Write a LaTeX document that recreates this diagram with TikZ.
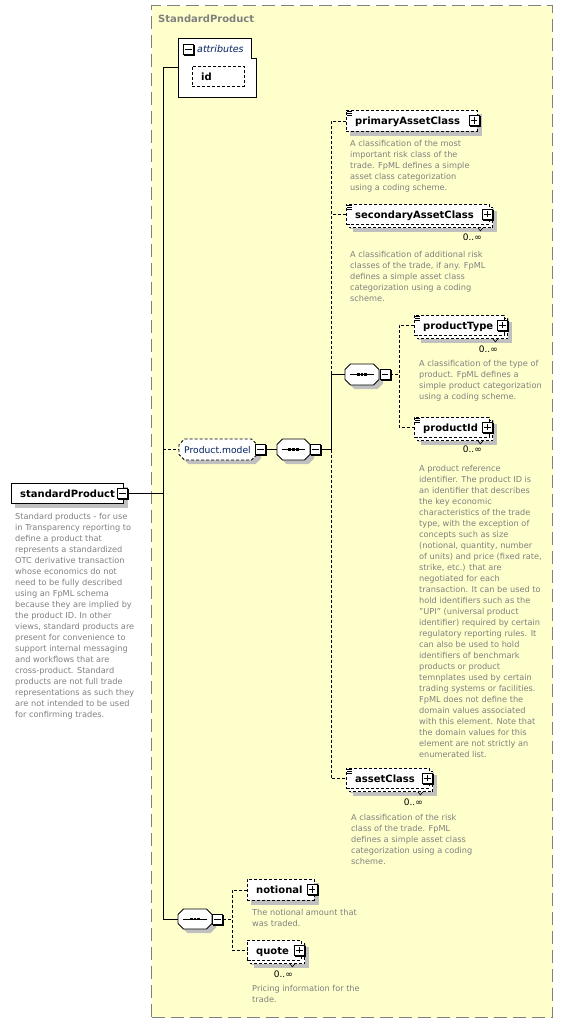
\documentclass[tikz,border=0pt]{standalone}
\usepackage{fontspec}
\setmainfont{DejaVu Sans}
\usetikzlibrary{calc,fit}
\definecolor{yelfill}{RGB}{255,255,204}
\definecolor{framecol}{RGB}{128,128,128}
\definecolor{shadcol}{RGB}{192,192,192}
\definecolor{desccol}{RGB}{128,128,128}
\definecolor{groupcol}{RGB}{0,32,96}
\pgfdeclarelayer{layyellow}
\pgfdeclarelayer{layshadow}
\pgfsetlayers{layyellow,layshadow,main}
\tikzset{
  conn/.style={line width=0.9pt},
  optconn/.style={line width=0.9pt, dash pattern=on 3pt off 2pt},
  reqbox/.style={draw, line width=0.9pt, fill=white, inner sep=0pt},
  optbox/.style={reqbox, dash pattern=on 3pt off 2pt},
  dashline/.style={draw, fill=white, line width=0.9pt, dash pattern=on 3pt off 2pt},
  solidline/.style={draw, fill=white, line width=0.9pt},
  namestyle/.style={font=\fontsize{10}{12}\selectfont\bfseries, inner sep=0pt},
  descstyle/.style={font=\fontsize{8.2}{11}\selectfont, text=desccol, inner sep=0pt, align=left, anchor=north west},
  multstyle/.style={font=\fontsize{9}{10}\selectfont, inner sep=0pt, anchor=base east},
  pmstyle/.style={draw, fill=white, line width=0.9pt, minimum width=10pt, minimum height=10pt, inner sep=0pt},
}
\newcommand\elembox[7]{%
  \node[#7, minimum width=#4pt, minimum height=#5pt, anchor=north west] (#1) at (#2,#3) {};
  \begin{pgfonlayer}{layshadow}
    \fill[shadcol] ($(#1.north west)+(4,4)$) rectangle ($(#1.south east)+(4,4)$);
  \end{pgfonlayer}
  \node[namestyle, anchor=base west] (#1-t) at ($(#1.west)+(9,3.6)$) {#6};
}
\newcommand\multiback[1]{%
  \begin{pgfonlayer}{layshadow}
    \fill[shadcol] ($(#1.north west)+(7,7)$) rectangle ($(#1.south east)+(7,7)$);
    \path[dashline] ($(#1.north west)+(3,3)$) rectangle ($(#1.south east)+(3,3)$);
    \draw[line width=0.6pt] ($(#1.south east)+(-12,3)$) -- ++(2.5,3) -- ++(2.5,-3);
  \end{pgfonlayer}
}
\newcommand\elemicon[1]{%
  \foreach \yy in {1.5,3.5,5.5} \draw[line width=0.7pt] ($(#1.north west)+(1,\yy)$) -- ++(5,0);
}
\newcommand\pmbox[3]{%
  \fill[black] ($(#2)+(-4.5,-4.5)$) rectangle ($(#2)+(6.5,6.5)$);
  \node[pmstyle] (#1) at (#2) {};
  \draw[line width=0.9pt] ($(#1.center)+(-3.2,0)$) -- ($(#1.center)+(3.2,0)$);
  \ifnum#3=1\relax \draw[line width=0.9pt] ($(#1.center)+(0,-3.2)$) -- ($(#1.center)+(0,3.2)$);\fi
}
\newcommand\octo[6]{%
  \coordinate (#1-a) at (#2,#3);
  \coordinate (#1-b) at (#4,#5);
  \node[fit=(#1-a)(#1-b), inner sep=0pt] (#1) {};
  \begin{pgfonlayer}{layshadow}
    \fill[shadcol, shift={(4,4)}] (#2+5.5,#3) -- (#4-5.5,#3) -- (#4,#3+5.5) -- (#4,#5-5.5) -- (#4-5.5,#5) -- (#2+5.5,#5) -- (#2,#5-5.5) -- (#2,#3+5.5) -- cycle;
  \end{pgfonlayer}
  \path[#6] (#2+5.5,#3) -- (#4-5.5,#3) -- (#4,#3+5.5) -- (#4,#5-5.5) -- (#4-5.5,#5) -- (#2+5.5,#5) -- (#2,#5-5.5) -- (#2,#3+5.5) -- cycle;
}
\newcommand\seqdots[1]{%
  \draw[line width=0.9pt] ($(#1.west)+(5,0)$) -- ($(#1.east)+(-5,0)$);
  \foreach \dx in {-3.7,0,3.7} \fill ($(#1.center)+(\dx-1.4,-1.2)$) rectangle ($(#1.center)+(\dx+1.4,1.2)$);
}
\newcommand\descnode[4]{%
  \node[descstyle] (#1) at (#2,#3) {\strut #4};
}
\begin{document}
\begin{tikzpicture}[x=1pt,y=-1pt]
\useasboundingbox (0,0) rectangle (563,1023);
% group frame
\begin{pgfonlayer}{layyellow}
  \node[fill=yelfill, draw=framecol, line width=1.3pt, dash pattern=on 13pt off 6pt,
        minimum width=401pt, minimum height=1012pt, anchor=north west, inner sep=0pt] (grp) at (151,5) {};
\end{pgfonlayer}
\node[font=\fontsize{10}{12}\selectfont\bfseries, text=framecol, anchor=base west, inner sep=0pt] (grp-t) at (158,22.5) {StandardProduct};
% trunk coordinates
\coordinate (trunkx) at (163,0);
\coordinate (b1x) at (331,0);
\coordinate (b2x) at (399,0);
\coordinate (b3x) at (232,0);
% standardProduct
\elembox{sp}{11}{483}{112}{20}{standardProduct}{reqbox}
\pmbox{spm}{122.5,493.5}{0}
\descnode{spd}{15}{511.3}{Standard products - for use\\in Transparency reporting to\\define a product that\\represents a standardized\\OTC derivative transaction\\whose economics do not\\need to be fully described\\using an FpML schema\\because they are implied by\\the product ID. In other\\views, standard products are\\present for convenience to\\support internal messaging\\and workflows that are\\cross-product. Standard\\products are not full trade\\representations as such they\\are not intended to be used\\for confirming trades.}
% attributes
\coordinate (attr-a) at (178,38);
\coordinate (attr-b) at (256,97);
\node[fit=(attr-a)(attr-b), inner sep=0pt] (attr) {};
\path[solidline] (178,38) -- (251,38) -- (251,58) -- (256,58) -- (256,97) -- (178,97) -- cycle;
\pmbox{attrm}{188.5,49.5}{0}
\node[font=\fontsize{9.5}{11}\selectfont\itshape, text=groupcol, anchor=base west, inner sep=0pt] (attr-t) at (197,52) {attributes};
\elembox{id}{192}{66}{52}{20}{id}{optbox}
% Product.model
\octo{pm}{179}{439}{257}{460}{dashline}
\node[font=\fontsize{9.2}{11}\selectfont, text=groupcol, anchor=base west, inner sep=0pt] (pm-t) at (184,453) {Product.model};
\pmbox{pmm}{260.5,449.5}{0}
\octo{sq1}{277}{439}{310}{460}{solidline}
\seqdots{sq1}
\pmbox{sq1m}{315.5,449.5}{0}
% primaryAssetClass
\elembox{pac}{346}{110}{131}{21}{primaryAssetClass}{optbox}
\elemicon{pac}
\pmbox{pacp}{474,120.5}{1}
\descnode{pacd}{350}{138.3}{A classification of the most\\important risk class of the\\trade. FpML defines a simple\\asset class categorization\\using a coding scheme.}
% secondaryAssetClass
\elembox{sac}{346}{204}{143}{20}{secondaryAssetClass}{optbox}
\multiback{sac}
\elemicon{sac}
\pmbox{sacp}{487.5,214}{1}
\node[multstyle] (sac-m) at (482,240) {0..∞};
\descnode{sacd}{350}{249.3}{A classification of additional risk\\classes of the trade, if any. FpML\\defines a simple asset class\\categorization using a coding\\scheme.}
% inner sequence
\octo{sq2}{345}{364}{379}{385}{solidline}
\seqdots{sq2}
\pmbox{sq2m}{385,374.5}{0}
% productType
\elembox{pt}{414}{315}{90}{20}{productType}{optbox}
\multiback{pt}
\elemicon{pt}
\pmbox{ptp}{502.5,325}{1}
\node[multstyle] (pt-m) at (498,352) {0..∞};
\descnode{ptd}{419}{358.3}{A classification of the type of\\product. FpML defines a\\simple product categorization\\using a coding scheme.}
% productId
\elembox{pid}{414}{417}{75}{20}{productId}{optbox}
\multiback{pid}
\elemicon{pid}
\pmbox{pidp}{487.5,427}{1}
\node[multstyle] (pid-m) at (482,452) {0..∞};
\descnode{pidd}{419}{463.3}{A product reference\\identifier. The product ID is\\an identifier that describes\\the key economic\\characteristics of the trade\\type, with the exception of\\concepts such as size\\(notional, quantity, number\\of units) and price (fixed rate,\\strike, etc.) that are\\negotiated for each\\transaction. It can be used to\\hold identifiers such as the\\"UPI" (universal product\\identifier) required by certain\\regulatory reporting rules. It\\can also be used to hold\\identifiers of benchmark\\products or product\\temnplates used by certain\\trading systems or facilities.\\FpML does not define the\\domain values associated\\with this element. Note that\\the domain values for this\\element are not strictly an\\enumerated list.}
% assetClass
\elembox{ac}{346}{768}{83}{20}{assetClass}{optbox}
\multiback{ac}
\elemicon{ac}
\pmbox{acp}{427.5,778}{1}
\node[multstyle] (ac-m) at (423,805) {0..∞};
\descnode{acd}{351}{812.3}{A classification of the risk\\class of the trade. FpML\\defines a simple asset class\\categorization using a coding\\scheme.}
% bottom sequence
\octo{sq3}{178}{909}{212}{929}{solidline}
\seqdots{sq3}
\pmbox{sq3m}{217.5,919}{0}
\elembox{not}{247}{879}{67}{21}{notional}{optbox}
\pmbox{notp}{312,889.5}{1}
\descnode{notd}{252}{907.3}{The notional amount that\\was traded.}
\elembox{quo}{247}{940}{54}{20}{quote}{optbox}
\multiback{quo}
\pmbox{quop}{299.5,950}{1}
\node[multstyle] (quo-m) at (293,977) {0..∞};
\descnode{quod}{252}{983.3}{Pricing information for the\\trade.}
% connectors
\draw[conn] (attr.west) -- (attr.west -| trunkx) -- (sq3.west -| trunkx) -- (sq3.west);
\draw[conn] (spm.east) -- (spm.east -| trunkx);
\draw[optconn] (pm.west -| trunkx) -- (pm.west);
\draw[conn] (pmm.east) -- (sq1.west);
\draw[conn] (sq1m.east) -- (sq1m.east -| b1x);
\draw[optconn] (pac.west) -- (pac.west -| b1x) -- (sq2.west -| b1x);
\draw[optconn] (sac.west) -- (sac.west -| b1x);
\draw[conn] (sq2.west) -- (sq2.west -| b1x) -- (sq1m.east -| b1x);
\draw[optconn] (sq1m.east -| b1x) -- (ac.west -| b1x) -- (ac.west);
\draw[optconn] (sq2m.east) -- (sq2m.east -| b2x);
\draw[optconn] (pt.west) -- (pt.west -| b2x) -- (pid.west -| b2x) -- (pid.west);
\draw[optconn] (sq3m.east) -- (sq3m.east -| b3x);
\draw[optconn] (not.west) -- (not.west -| b3x) -- (quo.west -| b3x) -- (quo.west);
\end{tikzpicture}
\end{document}
